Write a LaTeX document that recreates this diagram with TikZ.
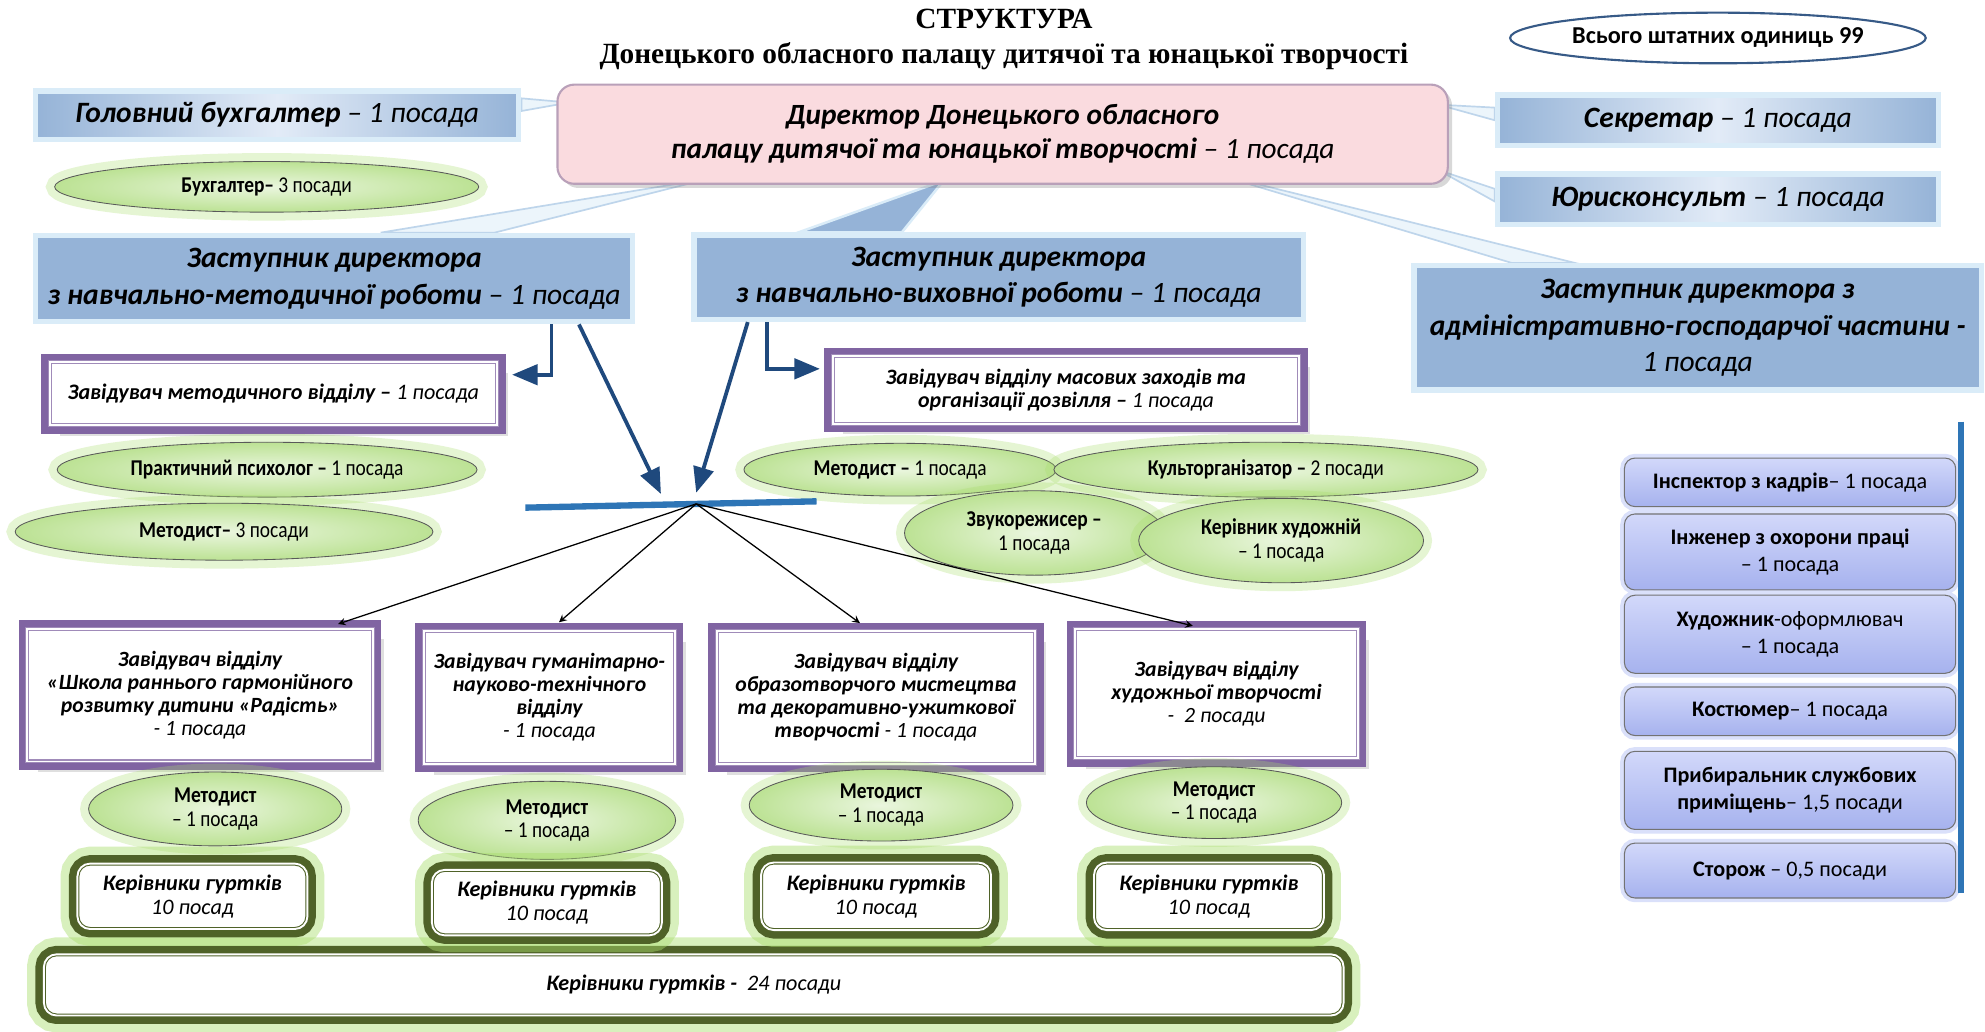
\documentclass[tikz,border=0pt]{standalone}
\usepackage{fontspec}
\setmainfont{Carlito}
\newfontfamily\titlefont{Liberation Serif}
\newfontfamily\narrowfont[FakeStretch=0.86]{Carlito}
\usetikzlibrary{arrows,positioning,shapes.geometric,shadows,backgrounds}

\definecolor{deptpurple}{RGB}{128,100,162}
\definecolor{olivedark}{RGB}{79,98,40}
\definecolor{glowgreen}{RGB}{170,222,110}
\definecolor{elllight}{RGB}{234,246,222}
\definecolor{elldark}{RGB}{188,226,148}
\definecolor{deputyblue}{RGB}{149,179,215}
\definecolor{glowblue}{RGB}{218,236,248}
\definecolor{paleblue}{RGB}{226,235,247}
\definecolor{directorpink}{RGB}{250,219,223}
\definecolor{directoredge}{RGB}{185,160,185}
\definecolor{arrowblue}{RGB}{31,73,125}
\definecolor{barblue}{RGB}{46,117,182}
\definecolor{totalblue}{RGB}{55,90,135}
\definecolor{svctop}{RGB}{210,216,250}
\definecolor{svcbottom}{RGB}{166,178,238}
\definecolor{glowlav}{RGB}{218,224,250}

\newcommand{\nposts}[1]{{\mdseries #1}}

\tikzstyle{chartitle}=[
	align=center,
	font=\titlefont\bfseries\fontsize{13.9}{16.5}\selectfont
]
\tikzstyle{total}=[
	ellipse,
	draw=totalblue,
	line width=1pt,
	fill=white,
	inner sep=0pt,
	font=\bfseries\fontsize{11.5}{13}\selectfont
]
\tikzstyle{director}=[
	rectangle,
	rounded corners=8pt,
	fill=directorpink,
	draw=directoredge,
	line width=1pt,
	drop shadow={opacity=0.3,shadow xshift=2pt,shadow yshift=-2pt},
	align=center,
	inner sep=0pt,
	font=\bfseries\itshape\fontsize{13.9}{16.2}\selectfont
]
\tikzstyle{headline}=[
	rectangle,
	draw=glowblue,
	line width=2.5pt,
	left color=deputyblue,
	right color=deputyblue,
	middle color=paleblue,
	inner sep=0pt,
	font=\bfseries\itshape\fontsize{14}{16}\selectfont
]
\tikzstyle{deputy}=[
	rectangle,
	fill=deputyblue,
	draw=glowblue,
	line width=2.5pt,
	align=center,
	inner sep=0pt,
	font=\bfseries\itshape\fontsize{14}{17.4}\selectfont
]
\tikzstyle{department}=[
	rectangle,
	fill=white,
	draw=deptpurple!75,
	line width=0.5pt,
	double=white,
	double distance=0.9pt,
	drop shadow={opacity=0.25,shadow xshift=5pt,shadow yshift=-5pt},
	preaction={draw=deptpurple, line width=8pt},
	align=center,
	inner sep=0pt,
	font=\bfseries\itshape\fontsize{10.3}{10.9}\selectfont
]
\tikzstyle{staff}=[
	ellipse,
	draw=black!65,
	line width=0.4pt,
	inner color=elllight,
	outer color=elldark,
	preaction={draw=glowgreen, line width=8pt, opacity=0.3},
	align=center,
	inner sep=0pt,
	font=\narrowfont\bfseries\fontsize{10.7}{11.2}\selectfont
]
\tikzstyle{clubs}=[
	rectangle,
	rounded corners=6pt,
	fill=white,
	draw=olivedark,
	line width=0.5pt,
	double=white,
	double distance=0.9pt,
	preaction={draw=glowgreen, line width=16pt, opacity=0.45},
	preaction={draw=olivedark, line width=8pt},
	align=center,
	inner sep=0pt,
	font=\bfseries\itshape\fontsize{10.5}{11.4}\selectfont
]
\tikzstyle{service}=[
	rectangle,
	rounded corners=5pt,
	draw=black!55,
	line width=0.5pt,
	top color=svctop,
	bottom color=svcbottom,
	preaction={draw=glowlav, line width=4pt},
	minimum width=157pt,
	align=center,
	inner sep=0pt,
	font=\bfseries\fontsize{10.5}{12.6}\selectfont
]
\tikzstyle{lead}=[
	->,
	>=triangle 45,
	draw=arrowblue,
	line width=1.8pt
]
\tikzstyle{branch}=[
	->,
	>=stealth,
	shorten >=6pt,
	line width=0.6pt
]
\tikzstyle{hubbar}=[
	draw=barblue,
	line width=3pt
]
\tikzstyle{pointer}=[
	fill=glowblue!50!white,
	draw=glowblue!60!deputyblue,
	line width=0.8pt
]
\tikzstyle{deputypointer}=[
	fill=deputyblue,
	draw=glowblue,
	line width=1.2pt
]

\begin{document}
\begin{tikzpicture}[x=0.6pt,y=-0.6pt]
\useasboundingbox (0,0) rectangle (1568,815);

\node [chartitle] (Title) at (793,31) {СТРУКТУРА\\Донецького обласного палацу дитячої та юнацької творчості};
\node [total, minimum width=197pt, minimum height=24pt] (Total) at (1357,30) {Всього штатних одиниць 99};

% administration
\node [director, minimum width=422pt, minimum height=47pt] (Director) at (792,106) {Директор Донецького обласного\\палацу дитячої та юнацької творчості \nposts{– 1 посада}};
\node [headline, minimum width=229pt, minimum height=23pt] (ChiefAccountant) at (219,91) {Головний бухгалтер \nposts{– 1 посада}};
\node [staff, minimum width=201pt, minimum height=24pt] (Accountant) [below=9pt of ChiefAccountant, xshift=-5pt] {Бухгалтер– \nposts{3 посади}};
\node [headline, minimum width=209pt, minimum height=24pt] (Secretary) at (1357,95) {Секретар \nposts{– 1 посада}};
\node [headline, minimum width=209pt, minimum height=24pt] (Lawyer) [below=11pt of Secretary] {Юрисконсульт \nposts{– 1 посада}};

% deputies
\node [deputy, minimum width=283pt, minimum height=41pt] (DeputyMethod) at (264,220) {Заступник директора\\з навчально-методичної роботи \nposts{– 1 посада}};
\node [deputy, minimum width=289pt, minimum height=40pt] (DeputyEdu) at (789,219) {Заступник директора\\з навчально-виховної роботи \nposts{– 1 посада}};
\node [deputy, minimum width=269pt, minimum height=59pt] (DeputyAdmin) at (1341,259) {Заступник директора з\\адміністративно-господарчої частини -\\\nposts{1 посада}};

% methodical department
\node [department, minimum width=212pt, minimum height=30pt, font=\bfseries\itshape\fontsize{10.5}{10.9}\selectfont] (HeadMethod) at (216,311) {Завідувач методичного відділу – \nposts{1 посада}};
\node [staff, minimum width=199pt, minimum height=26pt] (Psychologist) at (211,371) {Практичний психолог – \nposts{1 посада}};
\node [staff, minimum width=198pt, minimum height=27pt] (MethodistMain) at (177,420) {Методист– \nposts{3 посади}};

% events department
\node [department, minimum width=221pt, minimum height=32pt, font=\bfseries\itshape\fontsize{10.4}{10.8}\selectfont] (HeadEvents) at (842,308) {Завідувач відділу масових заходів та\\організації дозвілля – \nposts{1 посада}};
\node [staff, minimum width=148pt, minimum height=25pt] (MethodistEvents) at (711,371) {Методист – \nposts{1 посада}};
\node [staff, minimum width=201pt, minimum height=26pt] (Organizer) at (1000,371) {Культорганізатор – \nposts{2 посади}};
\node [staff, minimum width=123pt, minimum height=40pt] (SoundEngineer) at (817,421) {Звукорежисер –\\\nposts{1 посада}};
\node [staff, minimum width=135pt, minimum height=40pt] (ArtLeader) at (1012,427) {Керівник художній\\\nposts{– 1 посада}};

% departments
\node [department, minimum width=164pt, minimum height=63pt] (SchoolHead) at (158,549) {Завідувач відділу\\«Школа раннього гармонійного\\розвитку дитини «Радість»\\\nposts{- 1 посада}};
\node [department, minimum width=119pt, minimum height=63pt] (ScienceHead) at (434,551) {Завідувач гуманітарно-\\науково-технічного\\відділу\\\nposts{- 1 посада}};
\node [department, minimum width=151pt, minimum height=63pt] (ArtsHead) at (692,551) {Завідувач відділу\\образотворчого мистецтва\\та декоративно-ужиткової\\творчості \nposts{- 1 посада}};
\node [department, minimum width=134pt, minimum height=61pt] (CreativeHead) at (961,548) {Завідувач відділу\\художньої творчості\\\nposts{-~ 2 посади}};

\node [staff, minimum width=120pt, minimum height=35pt] (SchoolMethodist) at (170,639) {Методист\\\nposts{– 1 посада}};
\node [staff, minimum width=122pt, minimum height=37pt] (ScienceMethodist) at (432,648) {Методист\\\nposts{– 1 посада}};
\node [staff, minimum width=125pt, minimum height=34pt] (ArtsMethodist) at (696,636) {Методист\\\nposts{– 1 посада}};
\node [staff, minimum width=121pt, minimum height=34pt] (CreativeMethodist) at (959,634) {Методист\\\nposts{– 1 посада}};

\node [clubs, minimum width=616pt, minimum height=29pt] (AllClubs) at (548,778) {Керівники гуртків - \nposts{~24 посади}};
\node [clubs, minimum width=109pt, minimum height=31pt] (SchoolClubs) at (152,708) {Керівники гуртків\\\nposts{10 посад}};
\node [clubs, minimum width=109pt, minimum height=31pt] (ScienceClubs) at (432,713) {Керівники гуртків\\\nposts{10 посад}};
\node [clubs, minimum width=109pt, minimum height=32pt] (ArtsClubs) at (692,708) {Керівники гуртків\\\nposts{10 посад}};
\node [clubs, minimum width=109pt, minimum height=32pt] (CreativeClubs) at (955,708) {Керівники гуртків\\\nposts{10 посад}};

% economic staff
\node [service, minimum height=23pt] (Inspector) at (1414,381) {Інспектор з кадрів\nposts{– 1 посада}};
\node [service, minimum height=36pt] (SafetyEngineer) [below=3pt of Inspector] {Інженер з охорони праці\\\nposts{– 1 посада}};
\node [service, minimum height=37pt] (Designer) [below=2pt of SafetyEngineer] {Художник\nposts{-оформлювач}\\\nposts{– 1 посада}};
\node [service, minimum height=23pt] (Costumer) [below=6pt of Designer] {Костюмер\nposts{– 1 посада}};
\node [service, minimum height=37pt] (Cleaner) [below=7pt of Costumer] {Прибиральник службових\\приміщень\nposts{– 1,5 посади}};
\node [service, minimum height=26pt] (Watchman) [below=6pt of Cleaner] {Сторож \nposts{– 0,5 посади}};
\coordinate (ColumnTop) at (1549,333);
\coordinate (ColumnBottom) at (1549,705);
\draw [hubbar] (ColumnTop) -- (ColumnBottom);

% hub
\coordinate (BarLeft) at (415,401);
\coordinate (BarRight) at (645,396);
\coordinate (Hub) at (550,398);
\coordinate (HubLeft) at (522,390);
\coordinate (HubTop) at (550,389);
\draw [hubbar] (BarLeft) -- (BarRight);

\draw [lead] ([xshift=103pt]DeputyMethod.south) |- ([xshift=7pt,yshift=9pt]HeadMethod.east);
\draw [lead] ([xshift=116pt]DeputyMethod.south) -- (HubLeft);
\draw [lead] ([xshift=-119pt]DeputyEdu.south) -- (HubTop);
\draw [lead] ([xshift=-110pt]DeputyEdu.south) |- ([xshift=-6pt,yshift=10pt]HeadEvents.west);

\draw [branch] (Hub) -- (SchoolHead.28);
\draw [branch] (Hub) -- (ScienceHead.north);
\draw [branch] (Hub) -- (ArtsHead.95);
\draw [branch] (Hub) -- (CreativeHead.100);

\begin{pgfonlayer}{background}
\fill [white] (0,0) rectangle (1568,815);
\filldraw [pointer] ([yshift=8pt]ChiefAccountant.east) -- ([yshift=2pt]ChiefAccountant.east) -- ([xshift=6pt,yshift=15pt]Director.west) -- cycle;
\filldraw [pointer] ([yshift=6pt]Secretary.west) -- ([yshift=0pt]Secretary.west) -- ([xshift=-5pt,yshift=14pt]Director.east) -- cycle;
\filldraw [pointer] ([yshift=5pt]Lawyer.west) -- ([yshift=-1pt]Lawyer.west) -- ([xshift=-5pt,yshift=-17pt]Director.east) -- cycle;
\filldraw [pointer] ([xshift=22pt]DeputyMethod.north) -- ([xshift=76pt]DeputyMethod.north) -- ([xshift=-139pt,yshift=3pt]Director.south) -- cycle;
\filldraw [deputypointer] ([xshift=-95pt]DeputyEdu.north) -- ([xshift=-46pt]DeputyEdu.north) -- ([xshift=-28pt,yshift=2pt]Director.south) -- cycle;
\filldraw [pointer] ([xshift=-88pt]DeputyAdmin.north) -- ([xshift=-58pt]DeputyAdmin.north) -- ([xshift=98pt,yshift=6pt]Director.south) -- cycle;
\end{pgfonlayer}
\end{tikzpicture}
\end{document}
